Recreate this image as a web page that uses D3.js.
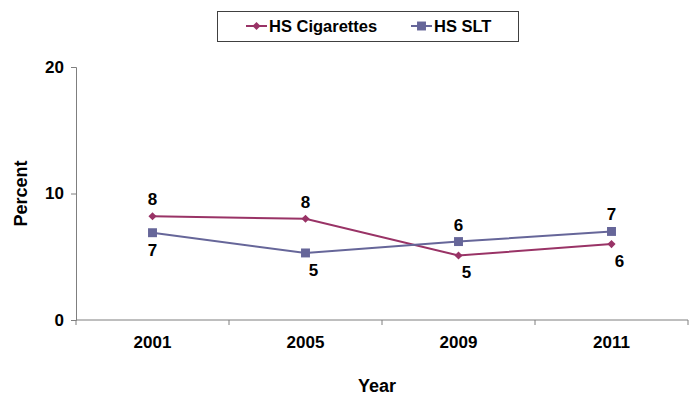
<!DOCTYPE html>
<html>
<head>
<meta charset="utf-8">
<script src="https://cdn.jsdelivr.net/npm/d3@7"></script>
<style>
  html, body { margin: 0; padding: 0; background: #fff; }
  svg { display: block; font-family: "Liberation Sans", Arial, sans-serif; }
</style>
</head>
<body>
<svg id="chart" width="695" height="399"></svg>
<script>
// Survey years and percentages for high-school students
const years = ["2001", "2005", "2009", "2011"];
const cigarettes = [8.2, 8.0, 5.1, 6.0];
const slt = [6.9, 5.3, 6.2, 7.0];
const yTicks = [0, 10, 20];
const seriesNames = ["HS Cigarettes", "HS SLT"];

const svg = d3.select("#chart");
const margin = { left: 76, right: 7, top: 67, bottom: 79 };
const W = 695, H = 399;

const x = d3.scaleBand().domain(years).range([margin.left, W - margin.right]).padding(0);
const y = d3.scaleLinear().domain([0, 20]).range([H - margin.bottom, margin.top]);

const axisColor = "#7f7f7f";

// Y axis
const yAxis = svg.append("g").attr("transform", `translate(${margin.left},0)`)
  .call(d3.axisLeft(y).tickValues(yTicks).tickSize(5).tickPadding(7).tickFormat(d3.format("d")));
yAxis.select(".domain").attr("stroke", axisColor);
yAxis.selectAll(".tick line").attr("stroke", axisColor);
yAxis.selectAll(".tick text").attr("fill", "#000").style("font-size", "17px").style("font-weight", "bold");

// X axis: ticks sit on category boundaries, labels in the middle of each band
const xg = svg.append("g");
xg.append("line")
  .attr("x1", x.range()[0]).attr("x2", x.range()[1])
  .attr("y1", y(0)).attr("y2", y(0))
  .attr("stroke", axisColor);
const bounds = years.map(d => x(d)).concat([x.range()[1]]);
xg.selectAll("line.tk").data(bounds).join("line").attr("class", "tk")
  .attr("x1", d => d).attr("x2", d => d)
  .attr("y1", y(0)).attr("y2", y(0) + 5)
  .attr("stroke", axisColor);
xg.selectAll("text").data(years).join("text")
  .attr("x", d => x(d) + x.bandwidth() / 2)
  .attr("y", y(0) + 28)
  .attr("text-anchor", "middle")
  .style("font-size", "17px").style("font-weight", "bold")
  .text(d => d);

// Axis titles
svg.append("text")
  .attr("transform", `translate(27,${(y(0) + y(20)) / 2}) rotate(-90)`)
  .attr("text-anchor", "middle")
  .style("font-size", "18px").style("font-weight", "bold")
  .text("Percent");
svg.append("text")
  .attr("x", 377).attr("y", 392)
  .attr("text-anchor", "middle")
  .style("font-size", "18px").style("font-weight", "bold")
  .text("Year");

const cx = d => x(d) + x.bandwidth() / 2;
const series = [
  { name: seriesNames[0], values: cigarettes, color: "#993366", shape: d3.symbolDiamond2, size: 42 },
  { name: seriesNames[1], values: slt, color: "#666699", shape: d3.symbolSquare, size: 80 }
];

const line = d3.line().x((v, i) => cx(years[i])).y(v => y(v));
const fmt = d3.format(".0f");

series.forEach((s, si) => {
  const other = series[1 - si].values;
  svg.append("path").datum(s.values)
    .attr("d", line).attr("fill", "none")
    .attr("stroke", s.color).attr("stroke-width", 2);
  svg.selectAll(null).data(s.values).join("path")
    .attr("transform", (v, i) => `translate(${cx(years[i])},${y(v)})`)
    .attr("d", d3.symbol().type(s.shape).size(s.size))
    .attr("fill", s.color);
  // value labels: above the point for the upper series, below for the lower one
  svg.selectAll(null).data(s.values).join("text")
    .attr("x", (v, i) => cx(years[i]) + (v >= other[i] ? 0 : (i === 0 ? 0 : 8)))
    .attr("y", (v, i) => y(v) + (v >= other[i] ? -11 : 23))
    .attr("text-anchor", "middle")
    .style("font-size", "17px").style("font-weight", "bold")
    .text(v => fmt(v));
});

// Legend
const lg = svg.append("g");
lg.append("rect").attr("x", 217.5).attr("y", 11.5).attr("width", 301).attr("height", 30)
  .attr("fill", "#fff").attr("stroke", "#404040");
const legendX = [246, 411];
series.forEach((s, i) => {
  const g = lg.append("g").attr("transform", `translate(${legendX[i]},26)`);
  g.append("line").attr("x1", 0).attr("x2", 21).attr("stroke", s.color).attr("stroke-width", 2);
  g.append("path").attr("transform", "translate(10.5,0)")
    .attr("d", d3.symbol().type(s.shape).size(s.size)).attr("fill", s.color);
  g.append("text").attr("x", 23).attr("y", 6)
    .style("font-size", "16.5px").style("font-weight", "bold")
    .text(s.name);
});
</script>
</body>
</html>
